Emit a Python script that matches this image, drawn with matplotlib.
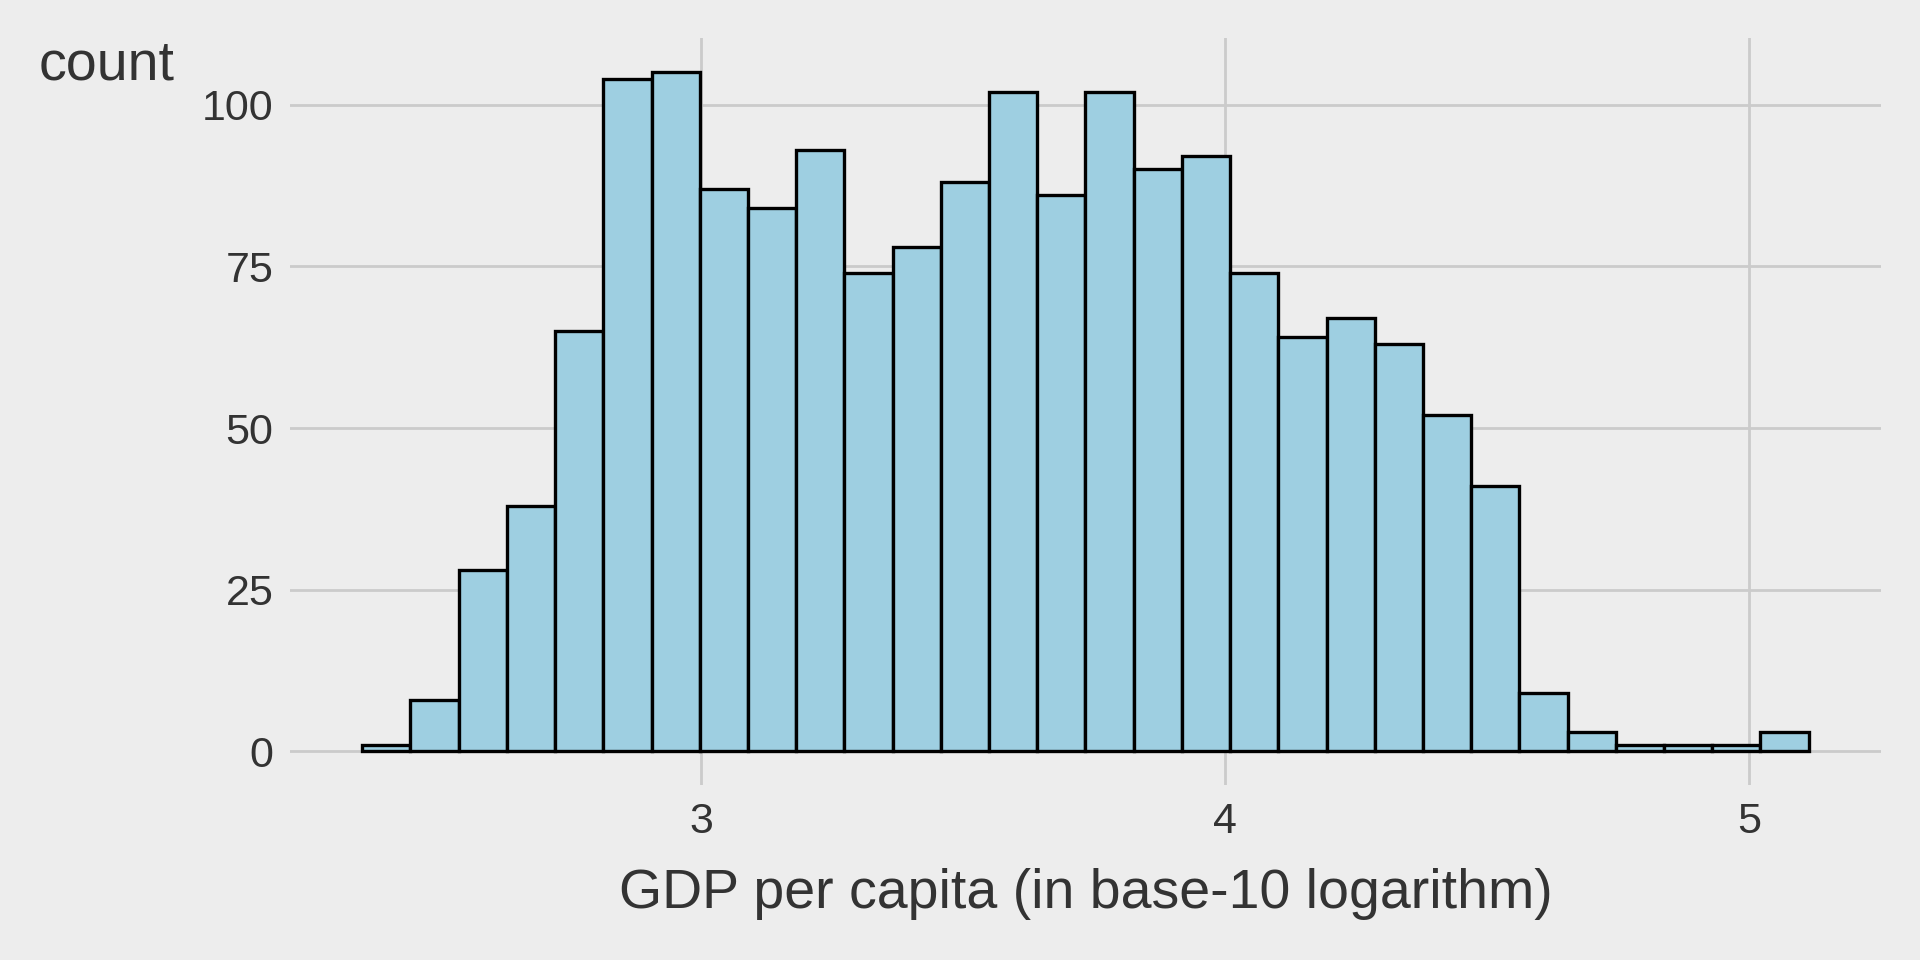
import matplotlib
matplotlib.use("Agg")
import matplotlib.pyplot as plt
import numpy as np

# histogram of log10 GDP per capita, 30 bins
BIN_START = 2.3524
BIN_WIDTH = 0.09207
counts = [1, 8, 28, 38, 65, 104, 105, 87, 84, 93,
          74, 78, 88, 102, 86, 102, 90, 92, 74, 64,
          67, 63, 52, 41, 9, 3, 1, 1, 1, 3]
x_ticks = [3, 4, 5]
y_ticks = [0, 25, 50, 75, 100]

BG = '#EDEDED'
TEXT = '#333333'
GRID = '#CBCBCB'
FILL = '#9ECFE1'

plt.rcParams['font.family'] = ['Liberation Sans', 'DejaVu Sans']

fig = plt.figure(figsize=(19.2, 9.6), dpi=100, facecolor=BG)
ax = fig.add_axes([0.151, 0.182, 0.8287, 0.778])
ax.set_facecolor(BG)

edges = BIN_START + BIN_WIDTH * np.arange(len(counts) + 1)
ax.bar(edges[:-1], counts, width=BIN_WIDTH, align='edge',
       color=FILL, edgecolor='black', linewidth=2.4, zorder=3)

lo, hi = edges[0], edges[-1]
pad = (hi - lo) * 0.05
ax.set_xlim(lo - pad, hi + pad)
ymax = max(counts)
ax.set_ylim(-ymax * 0.05, ymax * 1.05)

ax.set_xticks(x_ticks)
ax.set_yticks(y_ticks)
ax.grid(True, color=GRID, linewidth=2.0, zorder=0)
for s in ax.spines.values():
    s.set_visible(False)
ax.tick_params(axis='both', length=0, labelsize=31, labelcolor=TEXT)
ax.tick_params(axis='y', pad=12)
ax.tick_params(axis='x', pad=12)

ax.set_xlabel('GDP per capita (in base-10 logarithm)', fontsize=40,
              color=TEXT, labelpad=19)
fig.text(39 / 1920, 1 - 80 / 960, 'count', fontsize=40, color=TEXT,
         ha='left', va='baseline')

fig.savefig('out.png', dpi=100, facecolor=BG)
